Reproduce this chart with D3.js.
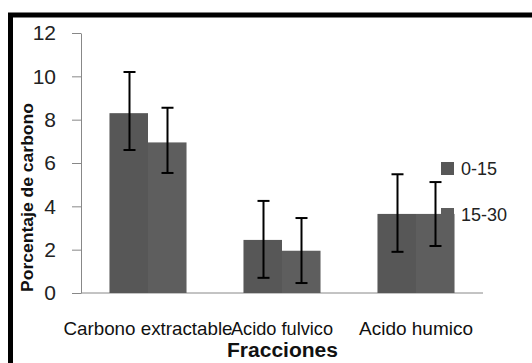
<!DOCTYPE html>
<html>
<head>
<meta charset="utf-8">
<script src="https://cdn.jsdelivr.net/npm/d3@7"></script>
<style>
  body { margin: 0; background: #fff; }
  text { font-family: "Liberation Sans", Arial, sans-serif; }
</style>
</head>
<body>
<script>
const W = 532, H = 363;

const categories = ["Carbono extractable", "Acido fulvico", "Acido humico"];
const series = ["0-15", "15-30"];
const values = [[8.3, 2.45, 3.65], [6.95, 1.95, 3.65]];
const errHi = [[10.2, 4.25, 5.48], [8.55, 3.46, 5.12]];
const errLo = [[6.6, 0.7, 1.9], [5.54, 0.46, 2.17]];
const yTicks = [0, 2, 4, 6, 8, 10, 12];
const colors = ["#575757", "#5e5e5e"];

const svg = d3.select("body").append("svg")
    .attr("width", W)
    .attr("height", H);

// outer frame (only top and left edges show in the crop)
svg.append("path")
    .attr("d", "M10.5,363 V15 H532")
    .attr("fill", "none")
    .attr("stroke", "#000")
    .attr("stroke-width", 5);

const x = d3.scaleBand()
    .domain(categories)
    .range([81, 483])
    .paddingInner(0.425)
    .paddingOuter(0.2125);

const xs = d3.scaleBand()
    .domain(series)
    .range([0, x.bandwidth()]);

const y = d3.scaleLinear()
    .domain([0, 12])
    .range([293, 33]);

// y axis
let yAxis = svg.append("g")
    .attr("transform", "translate(81,0)")
    .call(d3.axisLeft(y).tickValues(yTicks).tickSize(9).tickPadding(16).tickSizeOuter(0))
yAxis.select(".domain").attr("stroke", "#888");
yAxis.selectAll(".tick line").attr("stroke", "#888");
yAxis.selectAll(".tick text")
    .attr("fill", "#222")
    .style("font-size", "21px");

// x axis line
svg.append("line")
    .attr("x1", 81).attr("x2", 483)
    .attr("y1", y(0)).attr("y2", y(0))
    .attr("stroke", "#888");

// bars
series.forEach((s, si) => {
    svg.append("g").selectAll("rect")
        .data(categories)
        .enter()
        .append("rect")
        .attr("x", c => x(c) + xs(s))
        .attr("width", xs.bandwidth())
        .attr("y", (c, i) => y(values[si][i]))
        .attr("height", (c, i) => y(0) - y(values[si][i]))
        .attr("fill", colors[si]);
});

// error bars
series.forEach((s, si) => {
    let g = svg.append("g").attr("stroke", "#000").attr("stroke-width", 2);
    categories.forEach((c, i) => {
        let cx = Math.round(x(c) + xs(s) + xs.bandwidth() / 2) + 0.5;
        g.append("line").attr("x1", cx).attr("x2", cx)
            .attr("y1", y(errHi[si][i])).attr("y2", y(errLo[si][i]));
        g.append("line").attr("x1", cx - 6).attr("x2", cx + 6)
            .attr("y1", y(errHi[si][i])).attr("y2", y(errHi[si][i]));
        g.append("line").attr("x1", cx - 6).attr("x2", cx + 6)
            .attr("y1", y(errLo[si][i])).attr("y2", y(errLo[si][i]));
    });
});

// category labels
const labelWidths = [169, 102, 114];
svg.append("g").selectAll("text")
    .data(categories)
    .enter()
    .append("text")
    .attr("x", (c, i) => x(c) + x.bandwidth() / 2 - labelWidths[i] / 2)
    .attr("y", 335)
    .attr("textLength", (c, i) => labelWidths[i])
    .attr("lengthAdjust", "spacingAndGlyphs")
    .style("font-size", "18.5px")
    .attr("fill", "#111")
    .text(c => c);

// axis titles
svg.append("text")
    .attr("x", 227).attr("y", 357)
    .attr("textLength", 111)
    .attr("lengthAdjust", "spacingAndGlyphs")
    .style("font-size", "20px")
    .style("font-weight", "bold")
    .attr("fill", "#111")
    .text("Fracciones");

svg.append("text")
    .attr("transform", "translate(33,292) rotate(-90)")
    .attr("textLength", 189)
    .attr("lengthAdjust", "spacingAndGlyphs")
    .style("font-size", "16.5px")
    .style("font-weight", "bold")
    .attr("fill", "#111")
    .text("Porcentaje de carbono");

// legend
const legendY = [162, 208];
series.forEach((s, si) => {
    svg.append("rect")
        .attr("x", 441).attr("y", legendY[si])
        .attr("width", 13).attr("height", 13)
        .attr("fill", colors[si]);
    svg.append("text")
        .attr("x", 461).attr("y", legendY[si] + 13)
        .style("font-size", "18px")
        .attr("fill", "#222")
        .text(s);
});
</script>
</body>
</html>
